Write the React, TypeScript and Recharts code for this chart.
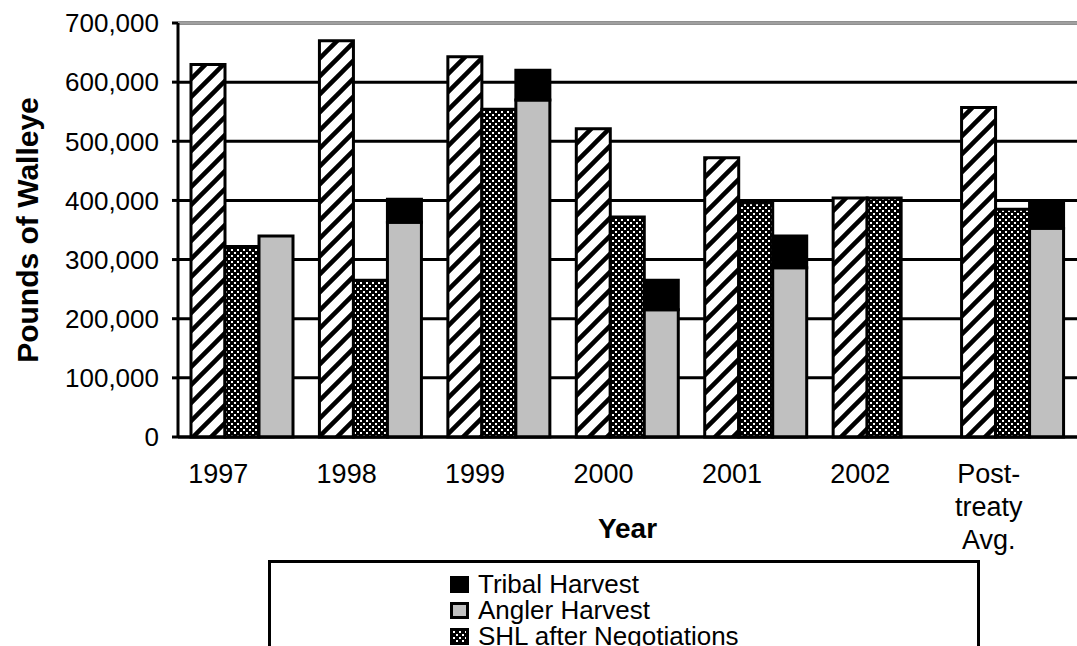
import { BarChart, Bar, XAxis, YAxis, CartesianGrid, ReferenceLine } from "recharts";

const FONT = '"Liberation Sans", Arial, Helvetica, sans-serif';

// categories and series (pounds of walleye)
const years = ["1997", "1998", "1999", "2000", "2001", "2002", "Post-\ntreaty\nAvg."];
const harvestLevel = [630000, 670000, 643000, 521000, 472000, 404000, 557000];
const shlAfterNegotiations = [322000, 265000, 554000, 372000, 396000, 404000, 385000];
const anglerHarvest = [340000, 363000, 570000, 215000, 286000, 0, 353000];
const tribalHarvest = [0, 39000, 50000, 50000, 54000, 0, 42000];
const yTicks = [0, 100000, 200000, 300000, 400000, 500000, 600000, 700000];

const legendItems = [
    { name: "Tribal Harvest", fill: "#000" },
    { name: "Angler Harvest", fill: "#c0c0c0" },
    { name: "SHL after Negotiations", fill: "url(#mesh)" },
];

const data = years.map((year, i) => ({
    year,
    harvestLevel: harvestLevel[i],
    shl: shlAfterNegotiations[i],
    angler: anglerHarvest[i],
    tribal: tribalHarvest[i],
}));

const TICK_DX = -24;

const YearTick = ({ x, y, payload }: any) => {
    const lines = String(payload.value).split("\n");
    return (
        <text x={x + TICK_DX} y={y} textAnchor="middle" fontSize={27} fill="#000" fontFamily={FONT}>
            {lines.map((line, i) => (
                <tspan key={i} x={x + TICK_DX} dy={i === 0 ? 46 : 33}>
                    {line}
                </tspan>
            ))}
        </text>
    );
};

const yLabel = (props: any) => {
    const vb = props.viewBox || { x: 0, y: 23, width: 178, height: 414 };
    const cx = vb.x + 27;
    const cy = vb.y + vb.height / 2;
    return (
        <text
            x={cx}
            y={cy}
            transform={`rotate(-90, ${cx}, ${cy})`}
            textAnchor="middle"
            dominantBaseline="central"
            fontSize={30}
            fontWeight="bold"
            fontFamily={FONT}
            fill="#000"
        >
            Pounds of Walleye
        </text>
    );
};

const xLabel = (props: any) => {
    const vb = props.viewBox || { x: 178, y: 437, width: 899, height: 209 };
    return (
        <text
            x={vb.x + vb.width / 2}
            y={vb.y + 101}
            textAnchor="middle"
            fontSize={28}
            fontWeight="bold"
            fontFamily={FONT}
            fill="#000"
        >
            Year
        </text>
    );
};

const Patterns = () => (
    <svg width={0} height={0} style={{ position: "absolute" }}>
        <defs>
            <pattern id="hatch" patternUnits="userSpaceOnUse" width={18} height={18}>
                <rect width={18} height={18} fill="#fff" />
                <path d="M-4.5,4.5 L4.5,-4.5 M0,18 L18,0 M13.5,22.5 L22.5,13.5" stroke="#000" strokeWidth={4.5} />
            </pattern>
            <pattern id="mesh" patternUnits="userSpaceOnUse" width={6} height={6}>
                <rect width={6} height={6} fill="#000" />
                <rect x={0} y={0} width={2} height={2} fill="#fff" />
                <rect x={3} y={3} width={2} height={2} fill="#fff" />
            </pattern>
        </defs>
    </svg>
);

const LegendBox = () => (
    <div
        style={{
            position: "absolute",
            left: 268,
            top: 560,
            width: 712,
            height: 130,
            boxSizing: "border-box",
            border: "3px solid #000",
            background: "#fff",
            paddingTop: 8,
            paddingLeft: 179,
            fontFamily: FONT,
            fontSize: 26,
            lineHeight: "26px",
            color: "#000",
        }}
    >
        {legendItems.map((item) => (
            <div key={item.name} style={{ whiteSpace: "nowrap" }}>
                <svg width={19} height={17} style={{ marginRight: 9 }}>
                    <rect x={1.5} y={1.5} width={16} height={14} fill={item.fill} stroke="#000" strokeWidth={3} />
                </svg>
                {item.name}
            </div>
        ))}
    </div>
);

export default function App() {
    return (
        <div
            style={{
                position: "absolute",
                left: 0,
                top: 0,
                width: 1077,
                height: 646,
                overflow: "hidden",
                background: "#fff",
            }}
        >
            <Patterns />
            <BarChart
                width={1077}
                height={646}
                data={data}
                margin={{ top: 23, right: 0, bottom: 0, left: 0 }}
                barSize={34}
                barGap={0}
            >
                <CartesianGrid vertical={false} stroke="#000" strokeWidth={3} />
                <ReferenceLine y={700000} stroke="#a0a0a0" strokeWidth={3} />
                <XAxis
                    dataKey="year"
                    height={209}
                    tickLine={false}
                    tickSize={0}
                    tickMargin={0}
                    axisLine={{ stroke: "#000", strokeWidth: 3 }}
                    tick={<YearTick />}
                    interval={0}
                    label={{ content: xLabel }}
                />
                <YAxis
                    width={178}
                    domain={[0, 700000]}
                    ticks={yTicks}
                    interval={0}
                    tickSize={6}
                    tickMargin={13}
                    tickFormatter={(v: number) => v.toLocaleString("en-US")}
                    tick={{ fill: "#000", fontSize: 26, fontFamily: FONT }}
                    tickLine={{ stroke: "#000", strokeWidth: 3 }}
                    axisLine={{ stroke: "#000", strokeWidth: 3 }}
                    label={{ content: yLabel }}
                />
                <Bar dataKey="harvestLevel" name="Safe Harvest Level" stackId="a" fill="url(#hatch)" stroke="#000" strokeWidth={3} isAnimationActive={false} />
                <Bar dataKey="shl" name="SHL after Negotiations" stackId="b" fill="url(#mesh)" stroke="#000" strokeWidth={3} isAnimationActive={false} />
                <Bar dataKey="angler" name="Angler Harvest" stackId="c" fill="#c0c0c0" stroke="#000" strokeWidth={3} isAnimationActive={false} />
                <Bar dataKey="tribal" name="Tribal Harvest" stackId="c" fill="#000" stroke="#000" strokeWidth={3} isAnimationActive={false} />
            </BarChart>
            <LegendBox />
        </div>
    );
}
